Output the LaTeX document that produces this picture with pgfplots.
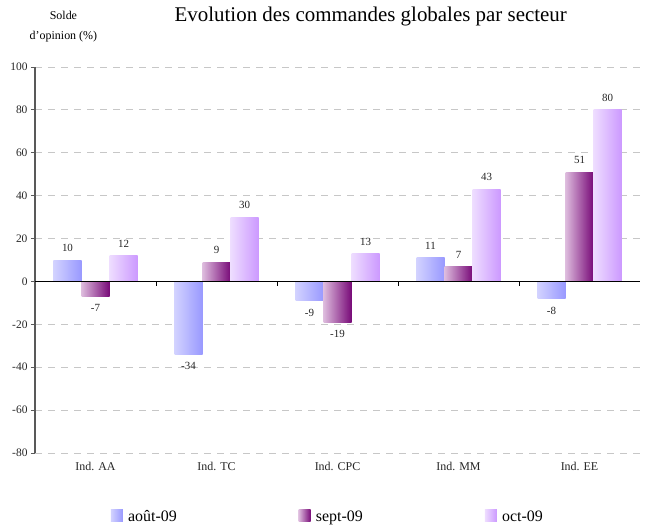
\documentclass[border=0pt]{standalone}
\usepackage{pgfplots}
\pgfplotsset{compat=1.18}
\usepackage{fontspec}
\setmainfont{Liberation Serif}
\definecolor{aoutL}{HTML}{D2D2FF}
\definecolor{aoutR}{HTML}{9999FF}
\definecolor{septL}{HTML}{DDBBDD}
\definecolor{septR}{HTML}{780A78}
\definecolor{octL}{HTML}{EEDDFF}
\definecolor{octR}{HTML}{CC99FF}
\pgfplotsset{
  aout/.style={draw=none, left color=aoutL, right color=aoutR, bar shift=-28bp, forget plot},
  sept/.style={draw=none, left color=septL, right color=septR, bar shift=0bp, forget plot},
  oct/.style={draw=none, left color=octL, right color=octR, bar shift=28bp, forget plot},
}
\begin{document}
\begin{tikzpicture}
\begin{axis}[
  scale only axis, width=605bp, height=386bp,
  ymin=-80, ymax=100, xmin=-0.5, xmax=4.5,
  ytick={-80,-60,...,100},
  yticklabels={-80,-60,-40,-20,0,20,40,60,80,100},
  xtick={0,1,2,3,4},
  xticklabels={Ind. AA, Ind. TC, Ind. CPC, Ind. MM, Ind. EE},
  axis x line*=bottom, axis y line*=left,
  x axis line style={draw=none}, xtick style={draw=none},
  y axis line style={-, draw=black!65, line width=1.5bp},
  ytick style={draw=black!65, line width=0.8bp},
  tick align=outside, major tick length=4bp,
  ymajorgrids,
  major grid style={draw=black!22, dash pattern=on 7bp off 6bp, line width=0.9bp},
  yticklabel style={font=\fontsize{11.5}{13}\selectfont, text=black!85},
  xticklabel style={font=\fontsize{12}{14}\selectfont, text=black!85, yshift=-2bp},
  ybar, bar width=28bp,
  /pgf/number format/assume math mode=true,
  nodes near coords,
  every node near coord/.append style={font=\fontsize{11}{13}\selectfont, text=black!85, inner xsep=3bp, inner ysep=8bp},
  title={Evolution des commandes globales par secteur},
  title style={font=\fontsize{21}{25}\selectfont, at={(0.555,1)}, anchor=south, inner sep=0pt, yshift=35bp},
  ylabel={Solde\\d'opinion (\%)},
  ylabel style={rotate=-90, at={(axis description cs:0.047,1)}, anchor=south, align=center, font=\fontsize{12}{20}\selectfont, inner sep=0pt, yshift=25bp},
  legend columns=3,
  legend style={at={(0.484,-0.166)}, anchor=center, draw=none, font=\fontsize{16}{19}\selectfont,
    /tikz/every even column/.append style={column sep=120bp}},
  legend image code/.code={\path[#1,draw=none] (0bp,-4bp) rectangle (12bp,8bp); \path (15bp,0bp);},
]
\addlegendimage{left color=aoutL, right color=aoutR}
\addlegendimage{left color=septL, right color=septR}
\addlegendimage{left color=octL, right color=octR}
\legend{août-09, sept-09, oct-09}
% aout-09
\addplot[aout] coordinates {(0,10)};
\addplot[aout] coordinates {(1,-34)};
\addplot[aout] coordinates {(2,-9)};
\addplot[aout] coordinates {(3,11)};
\addplot[aout] coordinates {(4,-8)};
% sept-09
\addplot[sept] coordinates {(0,-7)};
\addplot[sept] coordinates {(1,9)};
\addplot[sept] coordinates {(2,-19)};
\addplot[sept] coordinates {(3,7)};
\addplot[sept] coordinates {(4,51)};
% oct-09
\addplot[oct] coordinates {(0,12)};
\addplot[oct] coordinates {(1,30)};
\addplot[oct] coordinates {(2,13)};
\addplot[oct] coordinates {(3,43)};
\addplot[oct] coordinates {(4,80)};
\draw[black, line width=0.8bp] (axis cs:-0.5,0) -- (axis cs:4.5,0);
\draw[black, line width=0.8bp] (axis cs:0.5,0) -- ([yshift=-5bp]axis cs:0.5,0);
\draw[black, line width=0.8bp] (axis cs:1.5,0) -- ([yshift=-5bp]axis cs:1.5,0);
\draw[black, line width=0.8bp] (axis cs:2.5,0) -- ([yshift=-5bp]axis cs:2.5,0);
\draw[black, line width=0.8bp] (axis cs:3.5,0) -- ([yshift=-5bp]axis cs:3.5,0);
\coordinate (bl) at ([xshift=-35bp,yshift=-73bp]rel axis cs:0,0);
\coordinate (tr) at ([xshift=5bp,yshift=67bp]rel axis cs:1,1);
\end{axis}
\pgfresetboundingbox
\useasboundingbox (bl) rectangle (tr);
\end{tikzpicture}
\end{document}
